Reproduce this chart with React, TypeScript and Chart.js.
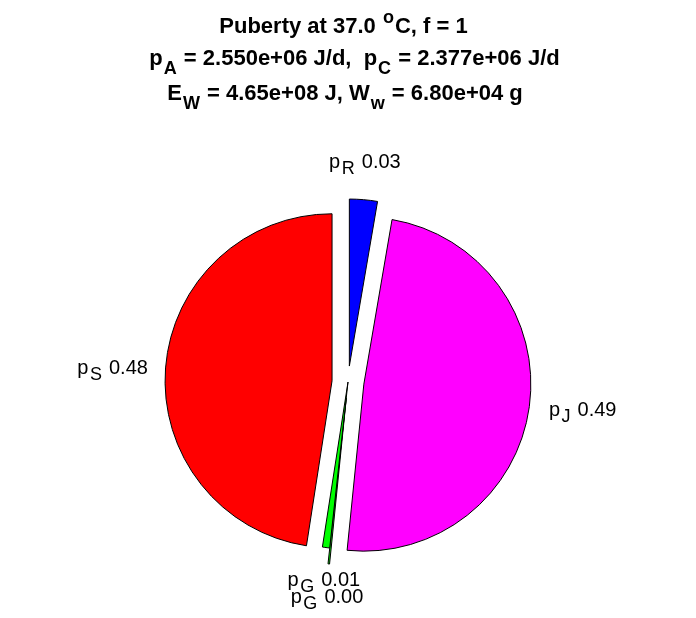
import React, { useEffect, useRef } from 'react';
import { Chart, ArcElement, registerables } from 'chart.js';

// ---- data ----
const sliceSubs = ['R', 'J', 'G', 'G', 'S'];
const fractions = [0.027, 0.489, 0.0015, 0.007, 0.4755];
const valueLabels = ['0.03', '0.49', '0.00', '0.01', '0.48'];
const sliceColors = ['#0000ff', '#ff00ff', '#00ff00', '#00ff00', '#ff0000'];
const explodeFlags = [1, 1, 1, 0, 1];

type Seg = { t: string; s?: 'sub' | 'sup' };
const titleLine1: Seg[] = [{ t: 'Puberty at 37.0 ' }, { t: 'o', s: 'sup' }, { t: 'C, f = 1' }];
const titleLine2: Seg[] = [
  { t: 'p' }, { t: 'A', s: 'sub' }, { t: ' = 2.550e+06 J/d,  p' }, { t: 'C', s: 'sub' }, { t: ' = 2.377e+06 J/d' },
];
const titleLine3: Seg[] = [
  { t: 'E' }, { t: 'W', s: 'sub' }, { t: ' = 4.65e+08 J, W' }, { t: 'w', s: 'sub' }, { t: ' = 6.80e+04 g' },
];
const titleLines = [titleLine1, titleLine2, titleLine3];

// ---- style ----
const FONT = '"Liberation Sans", Arial, Helvetica, sans-serif';
const RADIUS = 167;
const EXPLODE = 16;
const LABEL_R = 1.1;
const TITLE_FS = 22;
const LABEL_FS = 20;
const TITLE_CENTERS = [343.5, 354.5, 345];
const TITLE_BASELINES = [33, 65, 100];

type TextStyle = { fs: number; bold: boolean; scale: number; drop: number; rise: number; pad: number };
const TITLE_STYLE: TextStyle = { fs: TITLE_FS, bold: true, scale: 0.82, drop: 0.42, rise: 0.45, pad: 1 };
const LABEL_STYLE: TextStyle = { fs: LABEL_FS, bold: false, scale: 0.9, drop: 0.3, rise: 0.45, pad: 1.5 };

class ExplodedArc extends ArcElement {
  static id = 'explodedArc';
  draw(ctx: CanvasRenderingContext2D) {
    const self: any = this;
    const d = self.explodePx || 0;
    const mid = (self.startAngle + self.endAngle) / 2;
    ctx.save();
    ctx.translate(Math.cos(mid) * d, Math.sin(mid) * d);
    super.draw(ctx);
    ctx.restore();
  }
}

Chart.register(...registerables, ExplodedArc);
(Chart.defaults as any).datasets.pie.dataElementType = 'explodedArc';

function segFont(st: TextStyle, seg: Seg) {
  const size = seg.s ? st.fs * st.scale : st.fs;
  return `${st.bold ? 'bold ' : ''}${size}px ${FONT}`;
}

function segWidth(ctx: CanvasRenderingContext2D, st: TextStyle, seg: Seg) {
  ctx.font = segFont(st, seg);
  return ctx.measureText(seg.t).width + (seg.s ? 2 * st.pad : 0);
}

function measureSegs(ctx: CanvasRenderingContext2D, segs: Seg[], st: TextStyle) {
  return segs.reduce((w, seg) => w + segWidth(ctx, st, seg), 0);
}

function drawSegs(ctx: CanvasRenderingContext2D, segs: Seg[], left: number, base: number, st: TextStyle) {
  let x = left;
  ctx.textAlign = 'left';
  ctx.textBaseline = 'alphabetic';
  ctx.fillStyle = '#000';
  for (const seg of segs) {
    const w = segWidth(ctx, st, seg);
    ctx.font = segFont(st, seg);
    let y = base;
    if (seg.s === 'sub') y = base + st.fs * st.drop;
    if (seg.s === 'sup') y = base - st.fs * st.rise;
    ctx.fillText(seg.t, x + (seg.s ? st.pad : 0), y);
    x += w;
  }
}

const explodePlugin = {
  id: 'explodeSetter',
  afterDatasetsUpdate(chart: any) {
    chart.getDatasetMeta(0).data.forEach((el: any, i: number) => {
      el.explodePx = explodeFlags[i] * EXPLODE;
    });
  },
};

const textPlugin = {
  id: 'textDrawer',
  afterDraw(chart: any) {
    const ctx: CanvasRenderingContext2D = chart.ctx;
    ctx.save();
    titleLines.forEach((line, k) => {
      const w = measureSegs(ctx, line, TITLE_STYLE);
      drawSegs(ctx, line, TITLE_CENTERS[k] - w / 2, TITLE_BASELINES[k], TITLE_STYLE);
    });
    const meta = chart.getDatasetMeta(0);
    meta.data.forEach((el: any, i: number) => {
      const { x, y, startAngle, endAngle, outerRadius } = el.getProps(
        ['x', 'y', 'startAngle', 'endAngle', 'outerRadius'], true);
      const mid = (startAngle + endAngle) / 2;
      const c = Math.cos(mid);
      const s = Math.sin(mid);
      const dist = explodeFlags[i] * EXPLODE + LABEL_R * outerRadius;
      const ax = x + c * dist;
      const ay = y + s * dist;
      const segs: Seg[] = [{ t: 'p' }, { t: sliceSubs[i], s: 'sub' }, { t: ' ' + valueLabels[i] }];
      const w = measureSegs(ctx, segs, LABEL_STYLE);
      let left: number;
      if (c > 0.2) left = ax + 3;
      else if (c < -0.2) left = ax - w - 1;
      else left = ax - w / 2;
      let base: number;
      if (s < -0.7) base = ay - 15;
      else if (s > 0.7) base = ay + 22;
      else base = ay + 7;
      drawSegs(ctx, segs, left, base, LABEL_STYLE);
    });
    ctx.restore();
  },
};

export default function App() {
  const ref = useRef<HTMLCanvasElement>(null);
  useEffect(() => {
    if (!ref.current) return;
    const chart = new Chart(ref.current, {
      type: 'pie',
      data: {
        labels: sliceSubs.map((s, i) => 'p' + s + ' ' + valueLabels[i]),
        datasets: [
          {
            data: fractions,
            backgroundColor: sliceColors,
            borderColor: '#000000',
            borderWidth: 1,
            borderJoinStyle: 'miter',
            radius: RADIUS,
          } as any,
        ],
      },
      options: {
        responsive: false,
        devicePixelRatio: 1,
        animation: false,
        events: [],
        layout: { padding: { top: 146, bottom: 0, left: 0, right: 0 } },
        plugins: {
          legend: { display: false },
          tooltip: { enabled: false },
          title: { display: false },
        },
      } as any,
      plugins: [explodePlugin, textPlugin],
    });
    return () => chart.destroy();
  }, []);
  return (
    <div style={{ position: 'fixed', left: 0, top: 0, width: 696, height: 618, background: '#fff' }}>
      <canvas ref={ref} width={696} height={618} style={{ display: 'block' }} />
    </div>
  );
}
